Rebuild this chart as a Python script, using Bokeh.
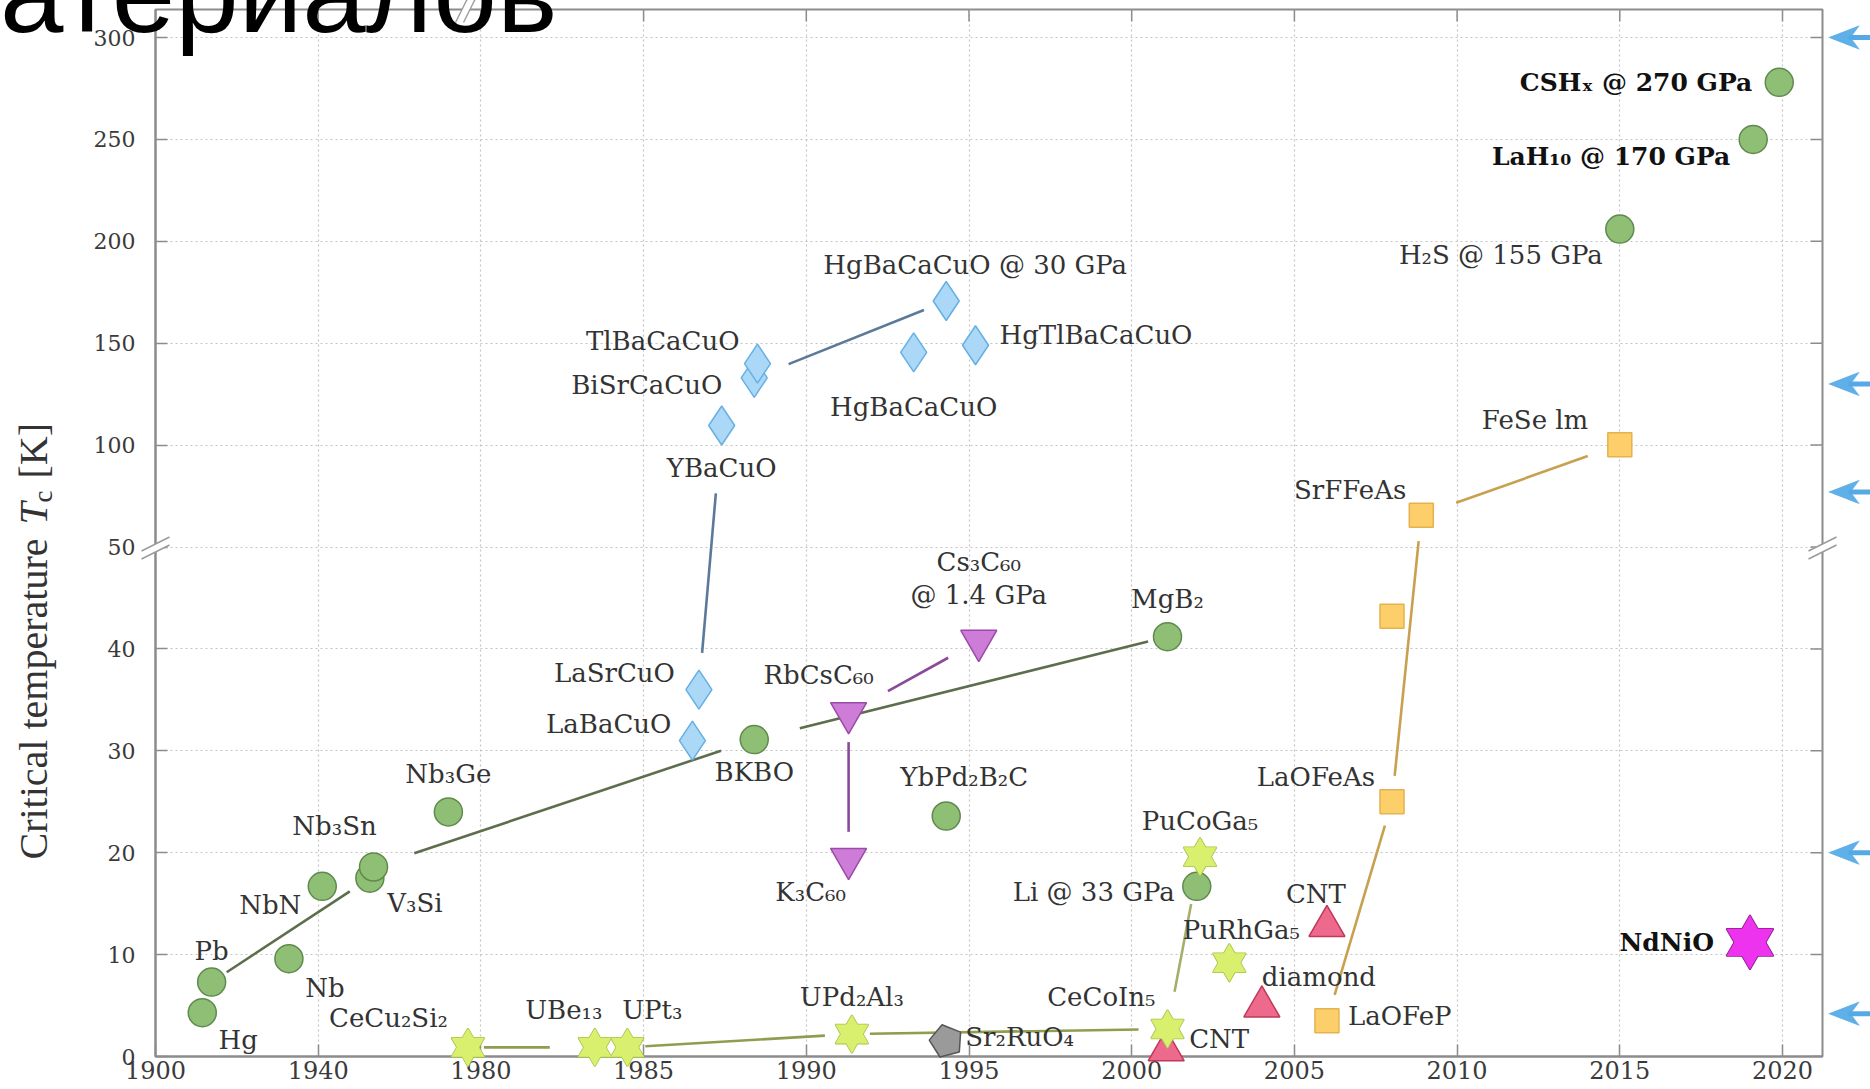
import math
from bokeh.plotting import figure
from bokeh.models import ColumnDataSource, FixedTicker, Range1d
from bokeh.core.properties import value
from bokeh.embed import file_html
from bokeh.resources import INLINE

# ------------------------------------------------------------------ data
x_tick_years = [1900, 1940, 1980, 1985, 1990, 1995, 2000, 2005, 2010, 2015, 2020]
y_tick_temps = [0, 10, 20, 30, 40, 50, 100, 150, 200, 250, 300]

conv_names = ["Hg", "Pb", "Nb", "NbN", "V₃Si", "Nb₃Sn", "Nb₃Ge", "BKBO", "YbPd₂B₂C",
              "MgB₂", "Li @ 33 GPa", "H₂S @ 155 GPa", "LaH₁₀ @ 170 GPa", "CSHₓ @ 270 GPa"]
conv_year = [1911.5, 1913.8, 1932.8, 1941.0, 1952.7, 1953.6, 1972.0, 1988.4, 1994.3,
             2001.1, 2002.0, 2015.0, 2019.1, 2019.9]
conv_tc = [4.3, 7.3, 9.6, 16.7, 17.5, 18.6, 24.0, 31.1, 23.6, 41.2, 16.7, 206, 250, 278]

cup_names = ["LaBaCuO", "LaSrCuO", "YBaCuO", "BiSrCaCuO", "TlBaCaCuO", "HgBaCaCuO",
             "HgTlBaCaCuO", "HgBaCaCuO @ 30 GPa"]
cup_year = [1986.5, 1986.7, 1987.4, 1988.4, 1988.5, 1993.3, 1995.2, 1994.3]
cup_tc = [31.0, 36.0, 109.6, 133, 140, 145.5, 149, 170.7]

ful_names = ["K₃C₆₀", "RbCsC₆₀", "Cs₃C₆₀ @ 1.4 GPa"]
ful_year = [1991.3, 1991.3, 1995.3]
ful_tc = [19.4, 33.7, 40.8]

hf_names = ["CeCu₂Si₂", "UBe₁₃", "UPt₃", "UPd₂Al₃", "CeCoIn₅", "PuCoGa₅", "PuRhGa₅"]
hf_year = [1976.8, 1983.5, 1984.5, 1991.4, 2001.1, 2002.1, 2003.0]
hf_tc = [0.9, 0.9, 0.9, 2.2, 2.7, 19.6, 9.2]

ru_names = ["Sr₂RuO₄"]
ru_year = [1994.3]
ru_tc = [1.5]

c_names = ["CNT", "diamond", "CNT"]
c_year = [2001.06, 2004.0, 2006.0]
c_tc = [0.6, 4.9, 12.8]

fe_names = ["LaOFeP", "LaOFeAs", "", "SrFFeAs", "FeSe   lm"]
fe_year = [2006.0, 2008.0, 2008.0, 2008.9, 2015.0]
fe_tc = [3.5, 25.0, 43.2, 65.6, 100.2]

ni_names = ["NdNiO"]
ni_year = [2019.0]
ni_tc = [11.2]

reference_temps = [300, 130, 77, 20, 4.2]   # blue arrows on the right

slide_title = "атериалов"
y_title = ["Critical temperature", "T", "c", "[K]"]

# ------------------------------------------------------------------ layout / style
label_place = {
    "conv": [(36, 27, "center"), (0, -31, "center"), (36, 29, "center"), (-52, 19, "center"),
             (45, 25, "center"), (-39, -41, "center"), (0, -38, "center"), (0, 32, "center"),
             (18, -39, "center"), (0, -38, "center"), (-22, 6, "right"), (-17, 26, "right"),
             (-23, 17, "right"), (-27, 0, "right")],
    "cup": [(-21, -17, "right"), (-24, -17, "right"), (0, 42, "center"), (-32, 7, "right"),
            (-18, -23, "right"), (0, 55, "center"), (24, -10, "left"), (29, -36, "center")],
    "ful": [(-38, 33, "center"), (-30, -38, "center"), (0, -62, "center")],
    "hf": [(-20, -29, "right"), (-31, -37, "center"), (25, -37, "center"), (0, -37, "center"),
           (-12, -32, "right"), (0, -36, "center"), (12, -33, "center")],
    "ru": [(19, -4, "left")],
    "c": [(23, -11, "left"), (0, -30, "left"), (-11, -32, "center")],
    "fe": [(21, -5, "left"), (-17, -25, "right"), (0, 0, "center"), (-15, -25, "right"),
           (-15, -25, "right")],
    "ni": [(-36, 0, "right")],
}
bold_labels = {"LaH₁₀ @ 170 GPa", "CSHₓ @ 270 GPa", "NdNiO"}
split_labels = {"Cs₃C₆₀ @ 1.4 GPa": ["Cs₃C₆₀", "@ 1.4 GPa"]}

W, H = 1870, 1089
ML, MR, MT, MB = 155, 48, 9, 33
PXX = 162.7 / 5.0       # px per (compressed) year unit
PXY = 10.19             # px per (compressed) kelvin unit
FL = ML                 # page x of frame left
FB = H - MB             # page y of frame bottom


def xt(year):
    return year if year >= 1980 else 1980 - (1980 - year) / 8.0


def yt(tc):
    return tc if tc <= 50 else 50 + (tc - 50) / 5.0


def xpx(px):
    return xt(1900) + (px - FL) / PXX


def ypy(py):
    return (FB - py) / PXY


x0 = xt(1900)
x1 = x0 + (W - ML - MR) / PXX
y1 = (H - MT - MB) / PXY

p = figure(width=W, height=H, x_range=Range1d(x0, x1), y_range=Range1d(0, y1),
           output_backend="svg", toolbar_location=None,
           min_border_left=ML, min_border_right=MR, min_border_top=MT, min_border_bottom=MB)
p.background_fill_color = "white"
p.border_fill_color = "white"
AX = "#8c8c8c"
p.outline_line_color = AX
p.outline_line_width = 2

xticks = [int(round(xt(v))) for v in x_tick_years]
yticks = [int(round(yt(v))) for v in y_tick_temps]
xlab = {int(round(xt(v))): str(v) for v in x_tick_years}
ylab = {int(round(yt(v))): str(v) for v in y_tick_temps}

for ax in (p.xaxis[0], p.yaxis[0]):
    ax.axis_line_color = AX
    ax.axis_line_width = 2
    ax.major_tick_line_color = AX
    ax.major_tick_line_width = 1.5
    ax.major_tick_in = 12
    ax.major_tick_out = 0
    ax.minor_tick_line_color = None
    ax.major_label_text_font = "DejaVu Serif"
    ax.major_label_text_color = "#3a3a3a"
p.xaxis[0].ticker = FixedTicker(ticks=xticks)
p.xaxis[0].major_label_overrides = xlab
p.xaxis[0].major_label_text_font_size = "24px"
p.xaxis[0].major_label_standoff = 4
p.yaxis[0].ticker = FixedTicker(ticks=yticks)
p.yaxis[0].major_label_overrides = ylab
p.yaxis[0].major_label_text_font_size = "22px"
p.yaxis[0].major_label_standoff = 20

p.xgrid.ticker = FixedTicker(ticks=xticks)
p.ygrid.ticker = FixedTicker(ticks=yticks)
for g in (p.xgrid, p.ygrid):
    g.grid_line_color = "#c4c4c4"
    g.grid_line_dash = "2 3"
    g.grid_line_width = 1.2

# inward ticks on the top and right frame edges
tl = 12
p.segment(x0=xticks, y0=[y1] * len(xticks), x1=xticks, y1=[y1 - tl / PXY] * len(xticks),
          line_color=AX, line_width=1.5)
p.segment(x0=[x1] * len(yticks), y0=yticks, x1=[x1 - tl / PXX] * len(yticks), y1=yticks,
          line_color=AX, line_width=1.5)

groups = {
    "conv": (conv_names, conv_year, conv_tc),
    "cup": (cup_names, cup_year, cup_tc),
    "ful": (ful_names, ful_year, ful_tc),
    "hf": (hf_names, hf_year, hf_tc),
    "ru": (ru_names, ru_year, ru_tc),
    "c": (c_names, c_year, c_tc),
    "fe": (fe_names, fe_year, fe_tc),
    "ni": (ni_names, ni_year, ni_tc),
}
pos = {}
for g, (nm, yr, tc) in groups.items():
    for n, a, b in zip(nm, yr, tc):
        pos[(g, n)] = (xt(a), yt(b))

# ------------------------------------------------------------------ connectors
connectors = [
    ("conv", "Pb", "V₃Si", 18, 24, "#5d6e4c"),
    ("conv", "Nb₃Sn", "BKBO", 43, 35, "#5d6e4c"),
    ("conv", "BKBO", "MgB₂", 47, 20, "#5d6e4c"),
    ("cup", "LaSrCuO", "YBaCuO", 37, 68, "#5b7a99"),
    ("cup", "BiSrCaCuO", "HgBaCaCuO @ 30 GPa", 37, 24, "#5b7a99"),
    ("ful", "RbCsC₆₀", "K₃C₆₀", 29, 27, "#8a4a9a"),
    ("ful", "RbCsC₆₀", "Cs₃C₆₀ @ 1.4 GPa", 45, 35, "#8a4a9a"),
    ("hf", "CeCu₂Si₂", "UBe₁₃", 16, 45, "#8f9d4f"),
    ("hf", "UPt₃", "UPd₂Al₃", 18, 27, "#8f9d4f"),
    ("hf", "UPd₂Al₃", "CeCoIn₅", 18, 29, "#8f9d4f"),
    ("hf", "CeCoIn₅", "PuCoGa₅", 38, 48, "#a3b06a"),
    ("fe", "LaOFeP", "LaOFeAs", 27, 25, "#c8a050"),
    ("fe", "LaOFeAs", "SrFFeAs", 26, 26, "#c8a050"),
    ("fe", "SrFFeAs", "FeSe   lm", 37, 34, "#c8a050"),
]
seg = dict(x0=[], y0=[], x1=[], y1=[], c=[])
for g, a, b, t0, t1, col in connectors:
    ax_, ay_ = pos[(g, a)]
    bx_, by_ = pos[(g, b)]
    dxp, dyp = (bx_ - ax_) * PXX, (by_ - ay_) * PXY
    L = math.hypot(dxp, dyp)
    ux, uy = dxp / L, dyp / L
    seg["x0"].append(ax_ + ux * t0 / PXX)
    seg["y0"].append(ay_ + uy * t0 / PXY)
    seg["x1"].append(bx_ - ux * t1 / PXX)
    seg["y1"].append(by_ - uy * t1 / PXY)
    seg["c"].append(col)
p.segment(x0="x0", y0="y0", x1="x1", y1="y1", line_color="c", line_width=2.6,
          source=ColumnDataSource(seg))

# ------------------------------------------------------------------ labels
rows = dict(x=[], y=[], text=[], dx=[], dy=[], align=[])
brows = dict(x=[], y=[], text=[], dx=[], dy=[], align=[])
for g, (nm, yr, tc) in groups.items():
    for i, n in enumerate(nm):
        if not n:
            continue
        dx, dy, al = label_place[g][i]
        lines = split_labels.get(n, [n])
        tgt = brows if n in bold_labels else rows
        for k, t in enumerate(lines):
            tgt["x"].append(xt(yr[i]))
            tgt["y"].append(yt(tc[i]))
            tgt["text"].append(t)
            tgt["dx"].append(dx)
            tgt["dy"].append(dy + (k - (len(lines) - 1) / 2) * 33)
            tgt["align"].append(al)
p.text(x="x", y="y", text="text", x_offset="dx", y_offset="dy", text_align="align",
       text_baseline="middle", text_font=value("DejaVu Serif"), text_font_size="26px",
       text_color="#333333", source=ColumnDataSource(rows))
p.text(x="x", y="y", text="text", x_offset="dx", y_offset="dy", text_align="align",
       text_baseline="middle", text_font=value("DejaVu Serif"), text_font_size="25px",
       text_font_style="bold", text_color="#111111", source=ColumnDataSource(brows))

# ------------------------------------------------------------------ markers
def xs_of(g):
    return [xt(v) for v in groups[g][1]]


def ys_of(g):
    return [yt(v) for v in groups[g][2]]


def hexagram(g, size, fill, line):
    src = ColumnDataSource(dict(x=xs_of(g), y=ys_of(g)))
    for m in ("triangle", "inverted_triangle"):
        p.scatter("x", "y", source=src, marker=m, size=size, fill_color=fill,
                  line_color=line, line_width=1.6, level="overlay")
    for m in ("triangle", "inverted_triangle"):
        p.scatter("x", "y", source=src, marker=m, size=size, fill_color=fill,
                  line_color=None, level="overlay")


p.scatter(xs_of("conv"), ys_of("conv"), marker="circle", size=28, fill_color="#8fbf74",
          line_color="#5f8a4e", line_width=1.5, level="overlay")
p.scatter(xs_of("cup"), ys_of("cup"), marker="diamond", size=39, fill_color="#aad8f6",
          line_color="#66b0e4", line_width=1.5, level="overlay")
p.scatter(xs_of("ful"), ys_of("ful"), marker="inverted_triangle", size=36,
          fill_color="#cd7dd8", line_color="#9a4aa8", line_width=1.5, level="overlay")
p.scatter(xs_of("c"), ys_of("c"), marker="triangle", size=36, fill_color="#ee6a8c",
          line_color="#c0385a", line_width=1.5, level="overlay")
p.scatter(xs_of("fe"), ys_of("fe"), marker="square", size=24, fill_color="#fccf6a",
          line_color="#e6b24e", line_width=1.5, level="overlay")
hexagram("hf", 33, "#d9f06e", "#a6c24a")
hexagram("ni", 47, "#ee33ee", "#8b1a8b")

R = 17
pxs, pys = [], []
for xv, yv in zip(xs_of("ru"), ys_of("ru")):
    ang = [math.pi / 2 + 0.25 + k * 2 * math.pi / 5 for k in range(5)]
    pxs.append([xv + R * math.cos(a) / PXX for a in ang])
    pys.append([yv + R * math.sin(a) / PXY for a in ang])
p.patches(pxs, pys, fill_color="#9a9a9a", line_color="#555555", line_width=1.5,
          level="overlay")

# ------------------------------------------------------------------ axis breaks (overlay glyphs)
brk_px, brk_py, bl = [], [], dict(x0=[], y0=[], x1=[], y1=[])


def brk(cx, cy, la, lb):
    brk_px.append([xpx(cx + la[0][0]), xpx(cx + la[1][0]), xpx(cx + lb[1][0]), xpx(cx + lb[0][0])])
    brk_py.append([ypy(cy + la[0][1]), ypy(cy + la[1][1]), ypy(cy + lb[1][1]), ypy(cy + lb[0][1])])
    for ln in (la, lb):
        bl["x0"].append(xpx(cx + ln[0][0]))
        bl["y0"].append(ypy(cy + ln[0][1]))
        bl["x1"].append(xpx(cx + ln[1][0]))
        bl["y1"].append(ypy(cy + ln[1][1]))


y50 = FB - yt(50) * PXY
vert_a = ((-14, 4), (14, -10))
vert_b = ((-14, 12), (14, -2))
brk(FL, y50, vert_a, vert_b)
brk(W - MR, y50, vert_a, vert_b)
brk(466, 9, ((-11, 13), (1, -11)), ((-3, 13), (9, -11)))
p.patches(brk_px, brk_py, fill_color="white", line_color=None, level="overlay")
p.segment(x0="x0", y0="y0", x1="x1", y1="y1", source=ColumnDataSource(bl),
          line_color="#9a9a9a", line_width=1.4, level="overlay")

# ------------------------------------------------------------------ reference arrows (right margin)
ARC = "#55aae6"
TIP = 1828
HL, HW, NOTCH = 31, 12, 22      # head length, half width, notch depth (px)
sh = dict(x0=[], y0=[], x1=[], y1=[])
hd = dict(x0=[], y0=[], x1=[], y1=[])
for t in reference_temps:
    cy = FB - yt(t) * PXY
    sh["x0"].append(xpx(TIP + NOTCH - 2))
    sh["x1"].append(xpx(1885))
    sh["y0"].append(yt(t))
    sh["y1"].append(yt(t))
    for k in range(HL * 2):
        d = (k + 0.5) / 2.0
        half = HW * d / HL
        notch = HW * (d - NOTCH) / (HL - NOTCH) if d > NOTCH else None
        xx = xpx(TIP + d)
        spans = [(-half, half)] if notch is None else [(-half, -notch), (notch, half)]
        for a, b in spans:
            hd["x0"].append(xx)
            hd["x1"].append(xx)
            hd["y0"].append(ypy(cy + a))
            hd["y1"].append(ypy(cy + b))
p.segment(x0="x0", y0="y0", x1="x1", y1="y1", source=ColumnDataSource(sh),
          line_color=ARC, line_width=5, level="overlay")
p.segment(x0="x0", y0="y0", x1="x1", y1="y1", source=ColumnDataSource(hd),
          line_color=ARC, line_width=0.9, level="overlay")

# ------------------------------------------------------------------ texts outside the frame
p.text(x=[xpx(557)], y=[ypy(-8)], text=[slide_title], text_align="right",
       text_baseline="middle", text_font=value("Liberation Sans"),
       text_font_size="114px", text_color="black", level="overlay")

AXF = value("Liberation Serif")
p.text(x=[xpx(33)], y=[ypy(859)], text=[y_title[0]], angle=math.pi / 2, text_font=AXF,
       text_font_size="40px", text_align="left", text_baseline="middle",
       text_color="#333333", level="overlay")
p.text(x=[xpx(33)], y=[ypy(524)], text=[y_title[1]], angle=math.pi / 2, text_font=AXF,
       text_font_size="40px", text_font_style="italic", text_align="left",
       text_baseline="middle", text_color="#333333", level="overlay")
p.text(x=[xpx(42)], y=[ypy(502)], text=[y_title[2]], angle=math.pi / 2, text_font=AXF,
       text_font_size="27px", text_align="left", text_baseline="middle",
       text_color="#333333", level="overlay")
p.text(x=[xpx(33)], y=[ypy(478)], text=[y_title[3]], angle=math.pi / 2, text_font=AXF,
       text_font_size="40px", text_align="left", text_baseline="middle",
       text_color="#333333", level="overlay")

open("out.html", "w").write(file_html(p, INLINE))
